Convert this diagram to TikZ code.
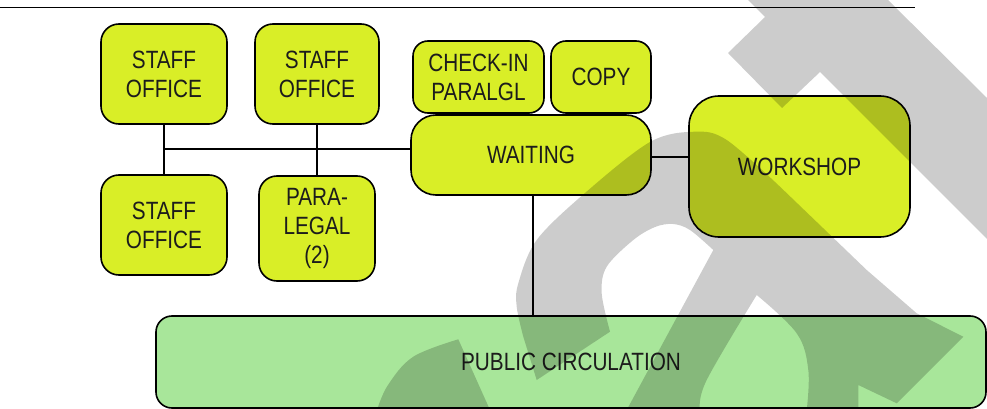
\documentclass[tikz,border=0pt]{standalone}
\usepackage{fontspec}
\setmainfont[FakeStretch=0.83]{Liberation Sans}
\begin{document}
\begin{tikzpicture}[x=1pt,y=-1pt,
  room/.style={draw=black, line width=1.6pt, fill=roomyellow, rounded corners=18pt,
    align=center, inner sep=0pt, text=textgrey,
    font=\fontsize{25}{29}\selectfont},
  conn/.style={draw=black, line width=1.5pt}]
\definecolor{roomyellow}{HTML}{D9EE27}
\definecolor{circgreen}{HTML}{A8E69A}
\definecolor{textgrey}{HTML}{1C1C1C}
\useasboundingbox (0,0) rectangle (987,409);
% top rule
\draw[line width=1pt] (0,8) -- (915,8);
% rooms
\node[room, minimum width=126pt, minimum height=100pt] (s1) at (164,74) {STAFF\\OFFICE};
\node[room, minimum width=124pt, minimum height=100pt] (s2) at (317,74) {STAFF\\OFFICE};
\node[room, minimum width=126pt, minimum height=100pt] (s3) at (164,225) {STAFF\\OFFICE};
\node[room, minimum width=116pt, minimum height=105pt] (para) at (317,228.5) {PARA-\\LEGAL\\(2)};
\node[room, rounded corners=15pt, minimum width=131pt, minimum height=72pt] (checkin) at (478.5,77) {CHECK-IN\\PARALGL};
\node[room, rounded corners=15pt, minimum width=100pt, minimum height=72pt] (copy) at (601,77) {COPY};
\node[room, rounded corners=25pt, minimum width=240pt, minimum height=80pt] (waiting) at (531,155) {WAITING};
\node[room, rounded corners=30pt, minimum width=221pt, minimum height=141pt] (workshop) at (799.5,166.5) {WORKSHOP};
\node[room, fill=circgreen, rounded corners=16pt, minimum width=830pt, minimum height=92pt] (public) at (571,362) {PUBLIC CIRCULATION};
% connectors
\coordinate (wl) at (411,149);
\coordinate (we) at (651,157);
\coordinate (wb) at (533,195);
\draw[conn] (s1.south) -- (s3.north);
\draw[conn] (s2.south) -- (para.north);
\draw[conn] (s1.south |- wl) -- (wl);
\draw[conn] (we) -- (workshop.west |- we);
\draw[conn] (wb) -- (wb |- public.north);
% watermark overlay
\fill[black, opacity=0.2]
  (748,0) -- (765,17) -- (728,53) -- (782,108) -- (820,72) -- (988,240) -- (988,99) -- (888,0) -- cycle
  (536.7,380) -- plot[smooth, tension=0.55] coordinates {(523.3,336.7) (516.7,306.7) (518.3,283.3) (536.7,240) (585,193) (650,142) (695,131.7) (726.7,140) (780,186.7)}
  -- (866.7,270) -- (916.7,313.3) -- (963.3,336.7) -- (896.7,403.3) -- (858.3,385) -- (858.3,410) -- (806.7,410)
  -- plot[smooth, tension=0.6] coordinates {(806.7,410) (808.3,370) (796.7,333.3) (756.7,295)}
  -- plot[smooth, tension=0.6] coordinates {(756.7,295) (706.7,380) (700,410)}
  -- (626.7,410) -- (713.3,250)
  -- plot[smooth, tension=0.55] coordinates {(713.3,250) (690,230) (673,224) (655,227) (633.3,240) (606.7,266.7) (601.7,293.3) (610,331.7)}
  -- cycle
  (377,410) -- plot[smooth, tension=0.6] coordinates {(377,410) (388,385) (413.3,356.7) (458.3,339.3)} -- (490,410) -- cycle;
\end{tikzpicture}
\end{document}
